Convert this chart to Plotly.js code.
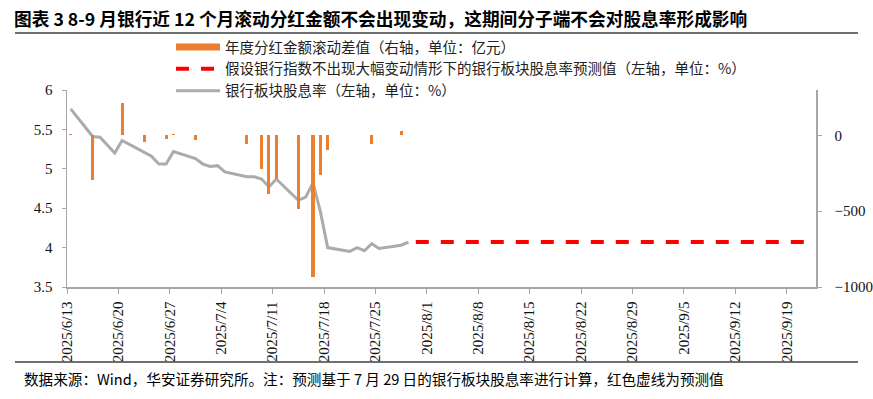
<!DOCTYPE html>
<html><head><meta charset="utf-8">
<script src="https://cdn.plot.ly/plotly-3.0.1.min.js"></script>
<style>html,body{margin:0;padding:0;background:#fff;} #chart{width:873px;height:399px;}</style>
</head><body><div id="chart"></div>
<script>
// ---- data ----
const yieldDates = ['2025-06-13','2025-06-16','2025-06-17','2025-06-18','2025-06-19','2025-06-20','2025-06-23','2025-06-24','2025-06-25','2025-06-26','2025-06-27','2025-06-30','2025-07-01','2025-07-02','2025-07-03','2025-07-04','2025-07-07','2025-07-08','2025-07-09','2025-07-10','2025-07-11','2025-07-14','2025-07-15','2025-07-16','2025-07-17','2025-07-18','2025-07-21','2025-07-22','2025-07-23','2025-07-24','2025-07-25','2025-07-28','2025-07-29'];
const yieldValues = [5.76,5.41,5.40,5.30,5.20,5.36,5.21,5.16,5.06,5.06,5.22,5.13,5.06,5.03,5.04,4.96,4.90,4.90,4.87,4.77,4.87,4.60,4.64,4.82,4.46,4.00,3.95,4.00,3.96,4.05,3.99,4.03,4.07];

const forecastDates = ['2025-07-30','2025-09-22'];
const forecastValues = [4.07,4.07];

const diffDates = ['2025-06-13','2025-06-16','2025-06-20','2025-06-23','2025-06-26','2025-06-27','2025-06-30','2025-07-04','2025-07-07','2025-07-09','2025-07-10','2025-07-11','2025-07-14','2025-07-16','2025-07-17','2025-07-18','2025-07-21','2025-07-22','2025-07-24','2025-07-28','2025-08-01'];
const diffValues = [12,-296,212,-43,-25,8,-33,3,-54,-219,-386,-289,-487,-932,-263,-98,6,3,-56,32,3];

const seriesNames = ['年度分红金额滚动差值（右轴，单位：亿元）','假设银行指数不出现大幅变动情形下的银行板块股息率预测值（左轴，单位：%）','银行板块股息率（左轴，单位：%）'];
const titleText = '图表 3 8-9 月银行近 12 个月滚动分红金额不会出现变动，这期间分子端不会对股息率形成影响';
const noteText = '数据来源：Wind，华安证券研究所。注：预测基于 7 月 29 日的银行板块股息率进行计算，红色虚线为预测值';

// ---- drawing ----
const mid = d => d + ' 12:00';
const DAY = 86400000;
const ORANGE = '#ED7D31', GRAY = '#ABABAB', RED = '#FF0000', AXIS = '#A6A6A6';
const cjk = "'Noto Sans CJK SC', 'Noto Sans', sans-serif";
const serif = "Liberation Serif";

const traces = [
  {type:'bar', x:diffDates.map(mid), y:diffValues, yaxis:'y2', marker:{color:ORANGE, line:{width:0}},
   width:0.42*DAY, showlegend:false, name:seriesNames[0]},
  {type:'scatter', mode:'lines', x:[null], y:[null], line:{color:ORANGE, width:7},
   name:seriesNames[0], legendrank:1, hoverinfo:'skip'},
  {type:'scatter', mode:'lines', x:forecastDates.map(mid), y:forecastValues,
   line:{color:RED, width:4, dash:'13px,12px'}, name:seriesNames[1], legendrank:2},
  {type:'scatter', mode:'lines', x:yieldDates.map(mid), y:yieldValues,
   line:{color:GRAY, width:3}, name:seriesNames[2], legendrank:3}
];

const L = 67, R = 816, T = 90, B = 287;
const px = x => (x - L) / (R - L);
const py = y => (B - y) / (B - T);

const tf = {family:serif, size:15, color:'#111'};
const layout = {
  width:873, height:399,
  margin:{l:L, r:873-R, t:T, b:399-B, pad:0},
  paper_bgcolor:'#fff', plot_bgcolor:'#fff',
  font:{family:serif},
  showlegend:true,
  legend:{x:px(171), y:py(31), xanchor:'left', yanchor:'top', bgcolor:'rgba(0,0,0,0)',
          font:{family:cjk, size:14.5, color:'#222'}, itemwidth:44, tracegroupgap:0},
  xaxis:{type:'date', range:['2025-06-13','2025-09-23'], tick0:'2025-06-13', dtick:7*DAY,
         tickformat:'%Y/%-m/%-d', tickangle:-90, ticks:'outside', ticklen:5, tickcolor:AXIS,
         showline:true, linecolor:AXIS, linewidth:1.5, showgrid:false, zeroline:false,
         tickfont:tf, ticklabelstandoff:2},
  yaxis:{range:[3.5,6], tick0:3.5, dtick:0.5, ticks:'outside', ticklen:4, tickcolor:AXIS,
         showline:true, linecolor:AXIS, linewidth:1.5, showgrid:false, zeroline:false,
         tickfont:tf, ticklabelstandoff:6},
  yaxis2:{overlaying:'y', side:'right', range:[-1000,300], tick0:0, dtick:500, ticks:'outside', ticklen:4,
          tickcolor:AXIS, showline:true, linecolor:AXIS, linewidth:1.5, showgrid:false, zeroline:false,
          tickfont:tf, ticklabelstandoff:10},
  bargap:0,
  shapes:[
    {type:'line', xref:'paper', yref:'paper', x0:px(15), x1:px(858), y0:py(33), y1:py(33), line:{color:'#404040', width:1.5}},
    {type:'line', xref:'paper', yref:'paper', x0:px(15), x1:px(858), y0:py(362), y1:py(362), line:{color:'#404040', width:1.5}}
  ],
  annotations:[
    {xref:'paper', yref:'paper', x:px(12), y:py(18), xanchor:'left', yanchor:'middle', showarrow:false,
     text:'<b>'+titleText+'</b>', font:{family:cjk, size:17.7, color:'#000'}},
    {xref:'paper', yref:'paper', x:px(22), y:py(378), xanchor:'left', yanchor:'middle', showarrow:false,
     text:noteText, font:{family:cjk, size:14.6, color:'#000'}}
  ]
};

Plotly.newPlot('chart', traces, layout, {displayModeBar:false, staticPlot:true});
</script>
</body></html>
